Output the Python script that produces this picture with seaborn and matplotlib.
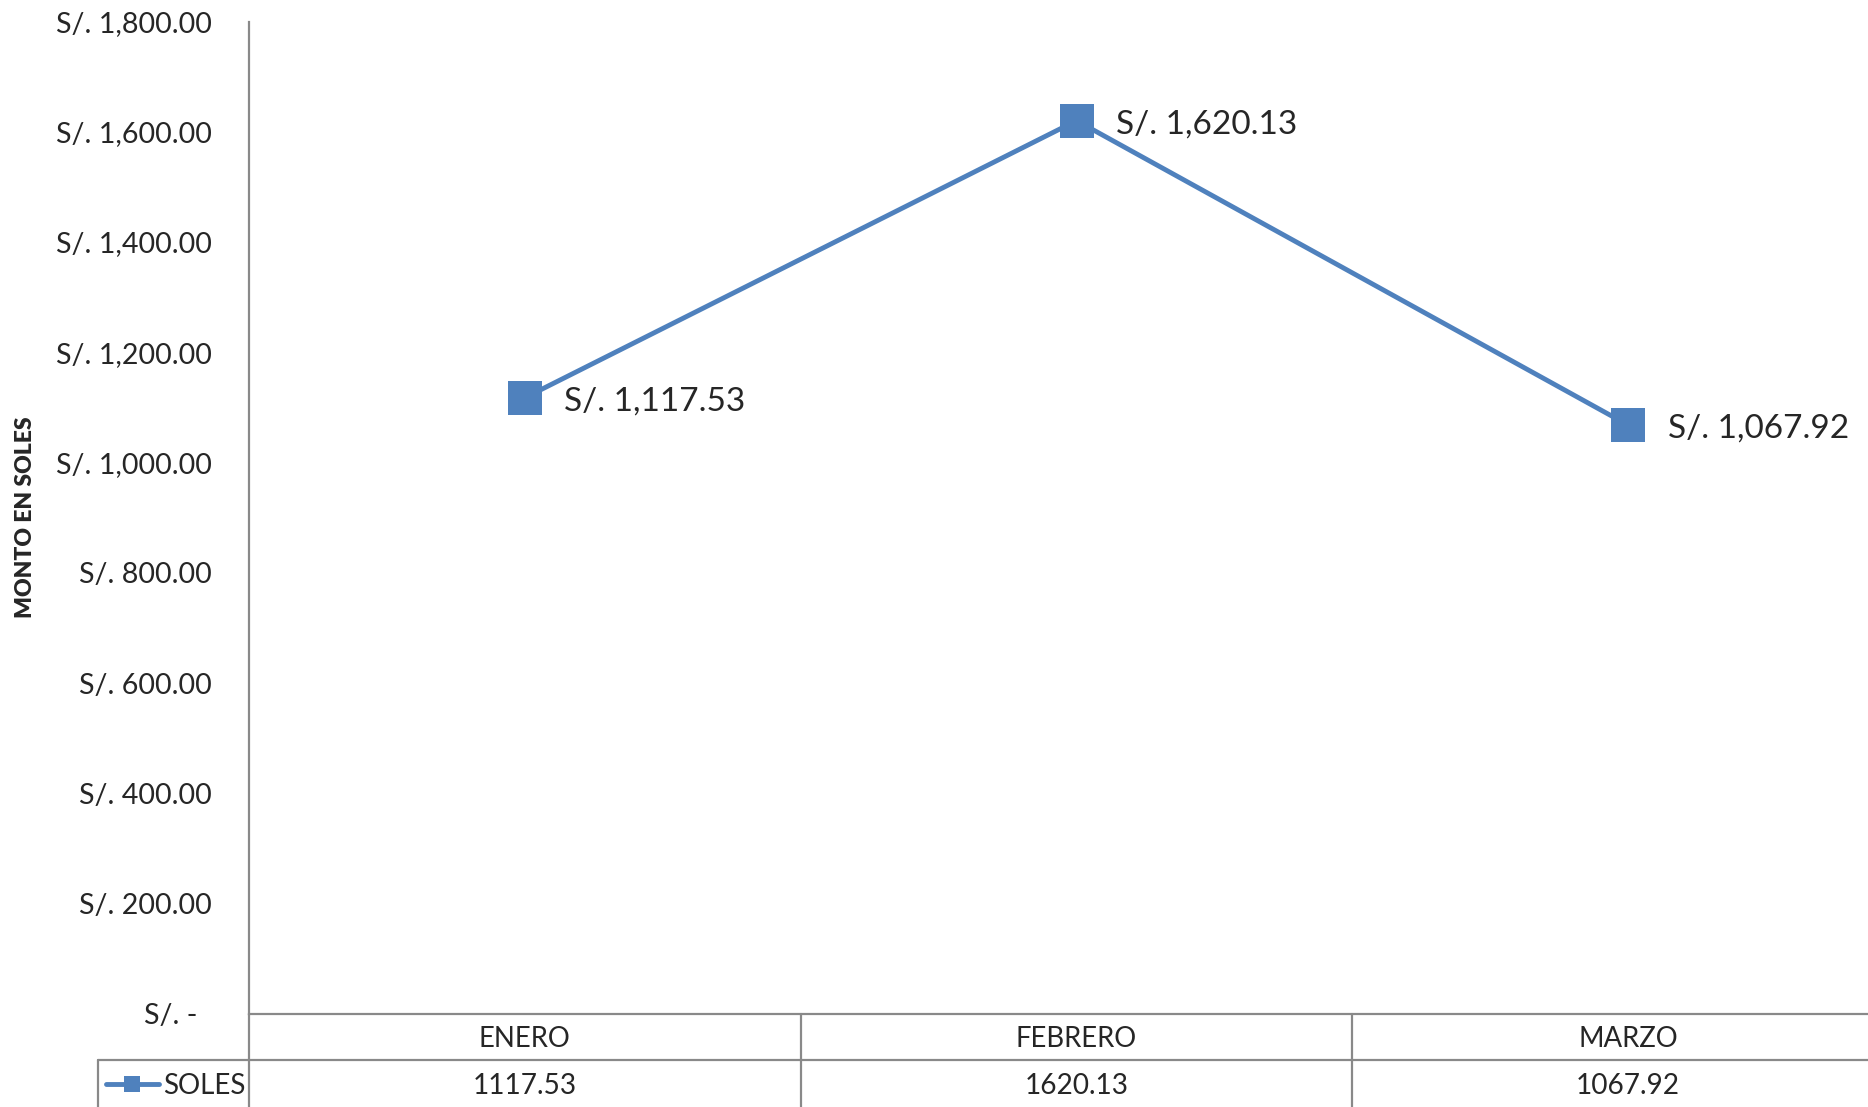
import pandas as pd
import numpy as np
import matplotlib
matplotlib.use("Agg")
import matplotlib.pyplot as plt
import matplotlib.transforms as mtransforms
import seaborn as sns

months = ["ENERO", "FEBRERO", "MARZO"]
soles = [1117.53, 1620.13, 1067.92]
series_name = "SOLES"
y_ticks = list(range(0, 1801, 200))

BLUE = "#4F81BD"
GRID = "#898989"

sns.set_style("white")
plt.rcParams["font.family"] = ["Lato", "DejaVu Sans"]

df = pd.DataFrame({"mes": range(len(months)), "monto": soles})

fig = plt.figure(figsize=(18.68, 11.07), dpi=100)
W, H = 1868, 1107
ax_left, ax_right = 249, 1904
ax_top, ax_bottom = 21.5, 1013.8
ax = fig.add_axes([ax_left / W, (H - ax_bottom) / H,
                   (ax_right - ax_left) / W, (ax_bottom - ax_top) / H])

sns.lineplot(data=df, x="mes", y="monto", marker="s", markersize=24,
             markeredgewidth=0, color=BLUE, linewidth=3.5, label=series_name,
             ax=ax)

ax.set_xlim(-0.5, len(months) - 0.5)
ax.set_ylim(0, 1800)
ax.set_yticks(y_ticks)
ax.set_yticklabels(["S/. -  " if v == 0 else f"S/. {v:,.2f}" for v in y_ticks],
                   fontsize=20.6)
ax.tick_params(axis="y", length=0, pad=26.6)
ax.set_xticks([])
ax.set_xlabel("")
ax.set_ylabel("MONTO EN SOLES", fontsize=16.5, fontweight="heavy")
ax.yaxis.set_label_coords((36 - ax_left) / (ax_right - ax_left), 0.5)

for side in ["top", "right"]:
    ax.spines[side].set_visible(False)
for side in ["left", "bottom"]:
    ax.spines[side].set_color(GRID)
    ax.spines[side].set_linewidth(1.6)

# data labels
for i, v in enumerate(soles):
    ax.annotate(f"S/. {v:,.2f}", (i, v), xytext=(28.5, -2.6),
                textcoords="offset points", va="center", ha="left",
                fontsize=24)

# data table below the axis
axh = ax_bottom - ax_top
row1 = -46 / axh
row2 = -93.2 / axh
trans = mtransforms.blended_transform_factory(ax.transData, ax.transAxes)
line_kw = dict(color=GRID, linewidth=1.6, clip_on=False)
for xb in np.arange(-0.5, len(months), 1.0):
    ax.plot([xb, xb], [0, row2], transform=trans, **line_kw)
leg_left = -0.5 + (98 - ax_left) / ((ax_right - ax_left) / len(months))
ax.plot([leg_left, len(months) - 0.5], [row1, row1], transform=trans, **line_kw)
ax.plot([leg_left, leg_left], [row1, row2], transform=trans, **line_kw)
txt_shift = -2.5 / axh
for i, (m, v) in enumerate(zip(months, soles)):
    ax.text(i, row1 / 2 + txt_shift, m, transform=trans, ha="center",
            va="center", fontsize=19.8)
    ax.text(i, (row1 + row2) / 2 + txt_shift, f"{v:.2f}", transform=trans,
            ha="center", va="center", fontsize=20.2)

leg = ax.legend(loc="center left",
                bbox_to_anchor=((106 - ax_left) / (ax_right - ax_left),
                                (row1 + row2) / 2 + txt_shift),
                frameon=False, fontsize=20, borderpad=0, borderaxespad=0,
                handlelength=1.9, handletextpad=0.15, numpoints=1)
leg.legend_handles[0].set_markersize(12)

fig.savefig("out.png", dpi=100)
